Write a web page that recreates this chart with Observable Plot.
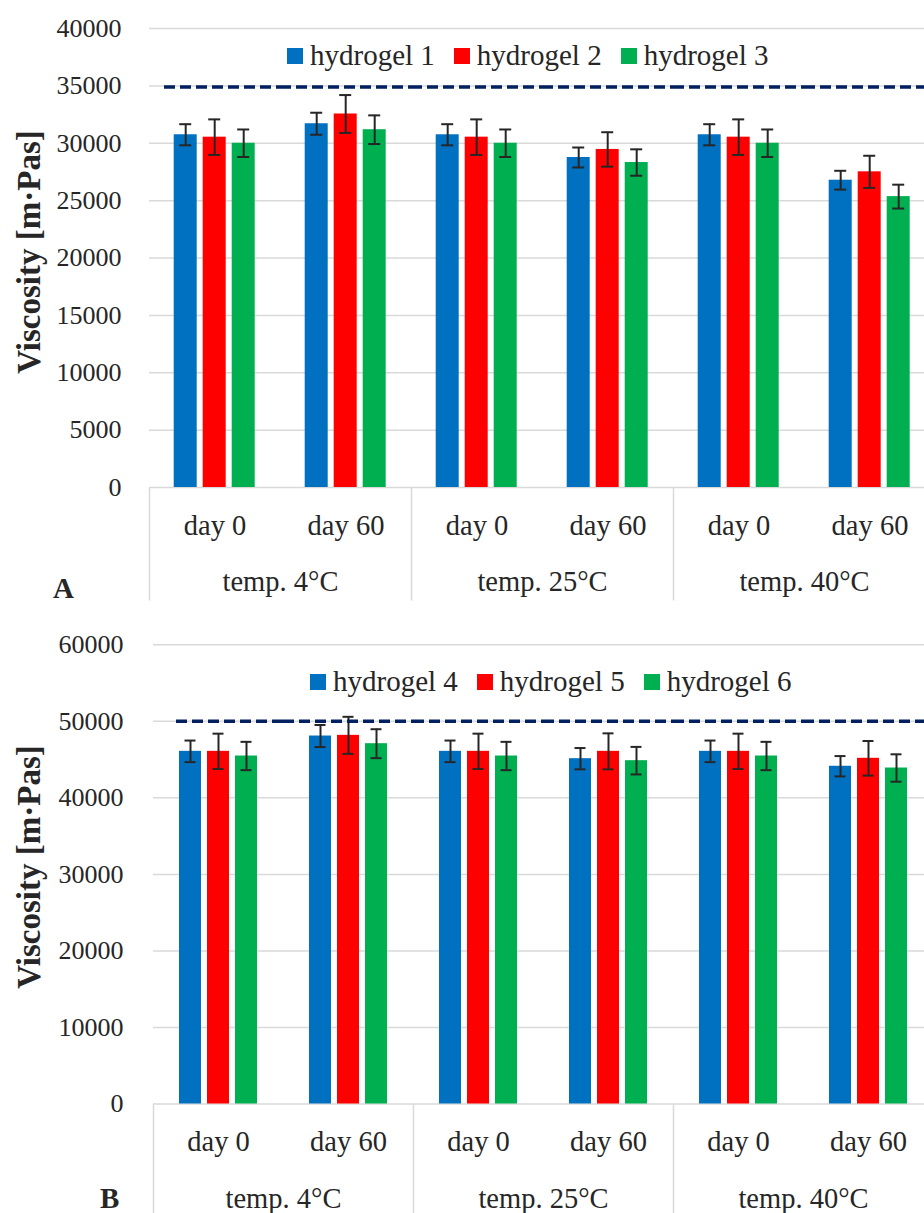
<!DOCTYPE html>
<html><head><meta charset="utf-8">
<script src="https://cdn.jsdelivr.net/npm/d3@7"></script>
<script src="https://cdn.jsdelivr.net/npm/@observablehq/plot@0.6"></script>
<style>
html,body{margin:0;padding:0;background:#fff;overflow:hidden;width:924px;height:1213px}
.panel{position:relative;width:924px;overflow:hidden}
.legend{position:absolute;display:flex;align-items:center;gap:19px;font-family:"Liberation Serif",serif;font-size:29px;line-height:29px;color:#262626;white-space:nowrap}
.legend .item{display:flex;align-items:center}
.sw{width:16px;height:16px;display:inline-block;margin-right:7px;transform:translateY(1px)}
.ylab{position:absolute;font-family:"Liberation Serif",serif;font-weight:bold;font-size:33px;line-height:33px;color:#262626;transform:translate(-50%,-50%) rotate(-90deg);white-space:nowrap}
.letter{position:absolute;font-family:"Liberation Serif",serif;font-weight:bold;font-size:29px;line-height:29px;color:#262626}
</style></head><body>
<div id="A" class="panel" style="height:605px"></div>
<div id="B" class="panel" style="height:608px"></div>
<script>
// ---- data ----
const categories = ["4|day 0", "4|day 60", "25|day 0", "25|day 60", "40|day 0", "40|day 60"];
const tempLabels = ["temp. 4°C", "temp. 25°C", "temp. 40°C"];
const colors = ["#0070c0", "#ff0000", "#00b050"];
const yLabel = "Viscosity [m·Pas]";

const seriesA = ["hydrogel 1", "hydrogel 2", "hydrogel 3"];
const hydrogel1 = [30740, 31700, 30740, 28760, 30740, 26780];
const hydrogel1Err = [920, 960, 920, 870, 920, 820];
const hydrogel2 = [30530, 32550, 30530, 29460, 30530, 27510];
const hydrogel2Err = [1550, 1650, 1550, 1500, 1550, 1400];
const hydrogel3 = [30000, 31180, 30000, 28320, 30000, 25350];
const hydrogel3Err = [1200, 1250, 1200, 1150, 1200, 1040];
const refA = 34900;
const ticksA = [0, 5000, 10000, 15000, 20000, 25000, 30000, 35000, 40000];

const seriesB = ["hydrogel 4", "hydrogel 5", "hydrogel 6"];
const hydrogel4 = [46080, 48080, 46080, 45120, 46080, 44130];
const hydrogel4Err = [1410, 1440, 1410, 1390, 1410, 1330];
const hydrogel5 = [46080, 48170, 46080, 46080, 46080, 45170];
const hydrogel5Err = [2310, 2420, 2310, 2350, 2310, 2260];
const hydrogel6 = [45470, 47080, 45470, 44860, 45470, 43900];
const hydrogel6Err = [1850, 1890, 1850, 1800, 1850, 1790];
const refB = 50000;
const ticksB = [0, 10000, 20000, 30000, 40000, 50000, 60000];

function makePanel(el, cfg) {
  const {series, values, errors, ticks, ref, letter} = cfg;
  const rows = [];
  categories.forEach((c, i) => series.forEach((s, j) =>
    rows.push({cat: c, series: s, value: values[j][i], err: errors[j][i]})));
  const day0 = categories.filter((c, i) => i % 2 === 0);
  const tempRows = day0.map((c, i) => ({cat: c, label: tempLabels[i]}));
  const refRows = categories.map(c => ({cat: c, v: ref}));
  const L = cfg.dividerLen;
  const divider = {draw(ctx) { ctx.moveTo(0, 0); ctx.lineTo(0, L); }};
  const refStyle = {fx: "cat", y: "v", stroke: "#002060", strokeWidth: 3.5, strokeDasharray: "11,5"};

  const chart = Plot.plot({
    width: 924, height: cfg.height,
    marginLeft: cfg.marginLeft, marginRight: cfg.marginRight,
    marginTop: cfg.marginTop, marginBottom: cfg.marginBottom,
    style: {fontFamily: "'Liberation Serif', serif", fontSize: "26px", color: "#262626", background: "white", overflow: "hidden"},
    fx: {domain: categories, paddingInner: 0, paddingOuter: 0, axis: null, label: null},
    x: {domain: series, paddingInner: 0.215, paddingOuter: 0.85, axis: null},
    y: {domain: [ticks[0], ticks[ticks.length - 1]], axis: null},
    color: {domain: series, range: colors},
    marks: [
      Plot.gridY({ticks, stroke: "#d9d9d9", strokeOpacity: 1, strokeWidth: 1.5}),
      Plot.axisY({ticks, tickSize: 0, tickPadding: cfg.tickPadding, label: null, tickFormat: d => String(d), fontSize: 26}),
      Plot.axisFx({anchor: "bottom", tickSize: 0, tickPadding: 27, label: null, tickFormat: c => c.split("|")[1], fontSize: 28.5}),
      Plot.barY(rows, {fx: "cat", x: "series", y: "value", fill: "series"}),
      Plot.ruleX(rows, {fx: "cat", x: "series", y1: d => d.value - d.err, y2: d => d.value + d.err, stroke: "#262626", strokeWidth: 2}),
      Plot.tickY(rows, {fx: "cat", x: "series", y: d => d.value - d.err, stroke: "#262626", strokeWidth: 2, inset: 5.5}),
      Plot.tickY(rows, {fx: "cat", x: "series", y: d => d.value + d.err, stroke: "#262626", strokeWidth: 2, inset: 5.5}),
      Plot.ruleY(refRows.slice(0, 1), {...refStyle, insetLeft: cfg.refInset}),
      Plot.ruleY(refRows.slice(1), refStyle),
      Plot.dot(day0, {fx: d => d, frameAnchor: "bottom-left", symbol: divider, stroke: "#d9d9d9", strokeWidth: 1.5, fill: "none", r: 1}),
      Plot.text(tempRows, {fx: "cat", frameAnchor: "bottom-right", text: "label", textAnchor: "middle", lineAnchor: "middle", dy: 94.5, fontSize: 28.5, fill: "#262626"})
    ]
  });
  el.appendChild(chart);

  const leg = document.createElement("div");
  leg.className = "legend";
  leg.style.left = cfg.legendX + "px";
  leg.style.top = cfg.legendY + "px";
  series.forEach((s, j) => {
    const it = document.createElement("div");
    it.className = "item";
    const sw = document.createElement("span");
    sw.className = "sw"; sw.style.background = colors[j];
    it.appendChild(sw);
    it.appendChild(document.createTextNode(s));
    leg.appendChild(it);
  });
  el.appendChild(leg);

  const yl = document.createElement("div");
  yl.className = "ylab"; yl.textContent = yLabel;
  yl.style.left = "29px"; yl.style.top = cfg.yLabelY + "px";
  el.appendChild(yl);

  const lt = document.createElement("div");
  lt.className = "letter"; lt.textContent = letter;
  lt.style.left = cfg.letterX + "px"; lt.style.top = cfg.letterY + "px";
  el.appendChild(lt);
}

makePanel(document.getElementById("A"), {
  series: seriesA, values: [hydrogel1, hydrogel2, hydrogel3], errors: [hydrogel1Err, hydrogel2Err, hydrogel3Err],
  ticks: ticksA, ref: refA, letter: "A",
  height: 605, marginLeft: 147.3, marginRight: -12, marginTop: 28, marginBottom: 118,
  tickPadding: 28, refInset: 15, dividerLen: 113,
  legendX: 287, legendY: 40.5, yLabelY: 251.5, letterX: 53, letterY: 573.7
});
makePanel(document.getElementById("B"), {
  series: seriesB, values: [hydrogel4, hydrogel5, hydrogel6], errors: [hydrogel4Err, hydrogel5Err, hydrogel6Err],
  ticks: ticksB, ref: refB, letter: "B",
  height: 608, marginLeft: 150, marginRight: -11, marginTop: 39.3, marginBottom: 109.5,
  tickPadding: 30, refInset: 23, dividerLen: 115,
  legendX: 310, legendY: 61.5, yLabelY: 261.5, letterX: 100, letterY: 578.7
});
</script>
</body></html>
